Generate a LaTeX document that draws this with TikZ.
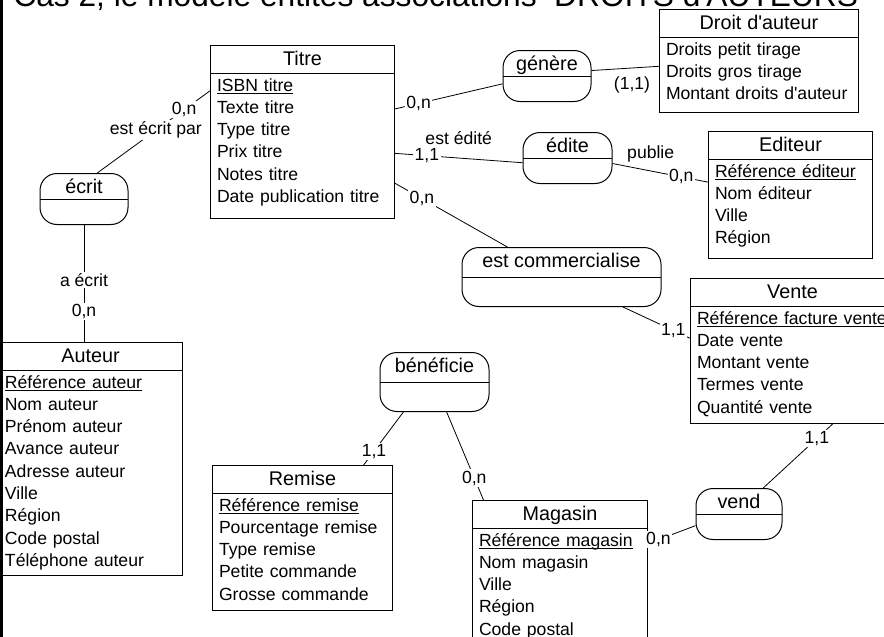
\documentclass[tikz,border=0pt]{standalone}
\usepackage{fontspec}
\setmainfont{Liberation Sans}[Ligatures=TeXOff]

\newsavebox{\clebox}
\newcommand{\cle}[1]{\sbox{\clebox}{#1}\rlap{\rule[-3.2pt]{\wd\clebox}{1.7pt}}\usebox{\clebox}}
\newcommand{\hautattr}{\rule{0pt}{16.5pt}}
\newcommand{\basattr}[1]{\rule[-#1]{0pt}{0pt}}
\newcommand{\entete}[1]{\makebox[\linewidth]{\rule[-8pt]{0pt}{28pt}\fontsize{19.8pt}{22.3pt}\selectfont #1}}

\tikzset{
  texte/.style={font=\fontsize{17.6pt}{22.3pt}\selectfont},
  nom/.style={font=\fontsize{19.8pt}{22.3pt}\selectfont},
  entite/.style={texte,draw,line width=1pt,align=left,text width=#1,inner xsep=6.5pt,inner ysep=0pt,anchor=north west,
    path picture={\draw ([yshift=-28pt]path picture bounding box.north west) -- ([yshift=-28pt]path picture bounding box.north east);}},
  assoc/.style={nom,draw,line width=1pt,rounded corners=17pt,inner sep=0pt,
    text height=20pt,text depth=31pt,anchor=north,
    path picture={\draw (path picture bounding box.west) -- (path picture bounding box.east);}},
  haute/.style={text depth=39pt},
  card/.style={texte,fill=white,inner sep=1.5pt}
}

\begin{document}
\begin{tikzpicture}[x=1pt,y=-1pt,line width=.8pt]
\path[use as bounding box,clip] (0,0) rectangle (884,637);
\fill (0,0) rectangle (2.7,637);
\node[font=\fontsize{31.7pt}{36pt}\selectfont,anchor=base west,inner sep=0pt] (titrepage) at (13,6)
  {Cas 2, le modèle entités associations~ DROITS d'AUTEURS};

% entites
\node[entite=171pt] (titre) at (210,45) {\entete{Titre}\\\hautattr\cle{ISBN titre}\\Texte titre\\Type titre\\Prix titre\\Notes titre\\Date publication titre\basattr{16pt}};
\node[entite=186pt] (droit) at (659,9) {\entete{Droit d'auteur}\\\hautattr Droits petit tirage\\Droits gros tirage\\Montant droits d'auteur\basattr{13pt}};
\node[entite=151pt] (editeur) at (708,131) {\entete{Editeur}\\\hautattr\cle{Référence éditeur}\\Nom éditeur\\Ville\\Région\basattr{15pt}};
\node[entite=191pt] (vente) at (690,278) {\entete{Vente}\\\hautattr\cle{Référence facture vente}\\Date vente\\Montant vente\\Termes vente\\Quantité vente\basattr{10pt}};
\node[entite=171pt] (auteur) at (-2,342) {\entete{Auteur}\\\hautattr\cle{Référence auteur}\\Nom auteur\\Prénom auteur\\Avance auteur\\Adresse auteur\\Ville\\Région\\Code postal\\Téléphone auteur\basattr{9pt}};
\node[entite=167pt] (remise) at (212,465) {\entete{Remise}\\\hautattr\cle{Référence remise}\\Pourcentage remise\\Type remise\\Petite commande\\Grosse commande\basattr{10pt}};
\node[entite=162pt] (magasin) at (472,500) {\entete{Magasin}\\\hautattr\cle{Référence magasin}\\Nom magasin\\Ville\\Région\\Code postal\basattr{12pt}};

% associations
\node[assoc,minimum width=88pt] (ecrit) at (84,173) {écrit};
\node[assoc,minimum width=88pt] (genere) at (547,50) {génère};
\node[assoc,minimum width=89pt] (edite) at (567.5,132) {édite};
\node[assoc,haute,minimum width=199pt] (comm) at (561.5,247) {est commercialise};
\node[assoc,haute,minimum width=109pt] (benef) at (434.5,352) {bénéficie};
\node[assoc,minimum width=86pt] (vend) at (739,488) {vend};

\path (titre.156) edge node[card,pos=.23] {0,n} node[card,pos=.48] {est écrit par} (ecrit.63)
      (ecrit.south) edge node[card,pos=.47] {a écrit} node[card,pos=.74] {0,n} (ecrit.south |- auteur.north)
      (titre.14) edge node[card,pos=.22] {0,n} (genere.190)
      (genere.7) edge node[card,pos=.6,yshift=-17pt] {(1,1)} (droit.183)
      (titre.347) edge node[card,pos=.25] {1,1} node[card,above=11pt] {est édité} (edite.186)
      (edite.353) edge node[card,pos=.4,above=7pt] {publie} node[card,pos=.72] {0,n} (editeur.171)
      (titre.331) edge node[card,pos=.24] {0,n} (comm.151)
      (comm.334) edge node[card,pos=.75] {1,1} (vente.173)
      (benef.224) edge node[card,pos=.74] {1,1} (remise.50)
      (benef.292) edge node[card,pos=.75] {0,n} (magasin.136)
      (vend.47) edge node[card,pos=.77] {1,1} (vente.299)
      (vend.195) edge node[card,pos=.78] {0,n} (magasin.19);
\end{tikzpicture}
\end{document}
